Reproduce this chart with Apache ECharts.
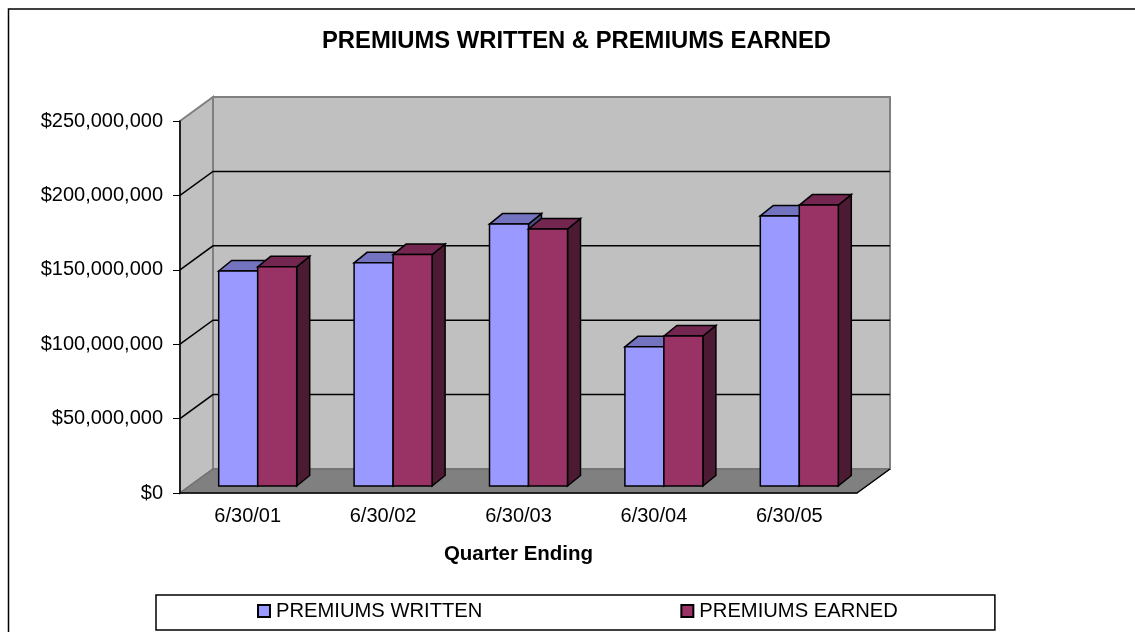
<!DOCTYPE html>
<html>
<head>
<meta charset="utf-8">
<title>Premiums Written & Premiums Earned</title>
<script src="https://cdn.jsdelivr.net/npm/echarts@6/dist/echarts.min.js"></script>
<style>
  html, body { margin: 0; padding: 0; background: #fff; }
  #chart { width: 1135px; height: 632px; }
</style>
</head>
<body>
<div id="chart"></div>
<script>
var quarters = ['6/30/01', '6/30/02', '6/30/03', '6/30/04', '6/30/05'];
var premiumsWritten = [144500000, 150000000, 176000000, 93500000, 181500000];
var premiumsEarned = [147300000, 155500000, 172700000, 100800000, 188800000];
var yTicks = [0, 50000000, 100000000, 150000000, 200000000, 250000000];

var fontName = '"Liberation Sans", Arial, sans-serif';
var wallDepth = [33, -24];   // how far the back wall sits from the axes
var barDepth = [13, -10.5];  // depth of a column
var barShift = [10, -7];     // columns stand in the middle of the floor
var barWidth = 39;

var chart = echarts.init(document.getElementById('chart'));

function poly(points, fill, stroke, width) {
    return {
        type: 'polygon',
        shape: { points: points },
        style: { fill: fill, stroke: stroke, lineWidth: width }
    };
}

// back wall, side wall and floor
function renderWalls(params, api) {
    var g = params.coordSys;
    var dx = wallDepth[0], dy = wallDepth[1];
    var left = g.x, right = g.x + g.width, top = g.y, bottom = g.y + g.height;
    return {
        type: 'group',
        children: [
            poly([[left + dx, top + dy], [right + dx, top + dy], [right + dx, bottom + dy], [left + dx, bottom + dy]], '#c0c0c0', '#808080', 2),
            poly([[left, top], [left + dx, top + dy], [left + dx, bottom + dy], [left, bottom]], '#c0c0c0', '#808080', 2),
            poly([[left, bottom], [left + dx, bottom + dy], [right + dx, bottom + dy], [right, bottom]], '#808080', '#6a6a6a', 1),
            {
                type: 'line',
                shape: { x1: right, y1: bottom, x2: right + dx, y2: bottom + dy },
                style: { stroke: '#000', lineWidth: 1.5 }
            }
        ]
    };
}

// one grid line, running over side wall and back wall
function renderGridLine(params, api) {
    var g = params.coordSys;
    var p = api.coord([0, api.value(1)]);
    var dx = wallDepth[0], dy = wallDepth[1];
    return {
        type: 'polyline',
        shape: { points: [[g.x, p[1]], [g.x + dx, p[1] + dy], [g.x + g.width + dx, p[1] + dy]] },
        style: { fill: null, stroke: '#000', lineWidth: 1.5 }
    };
}

function makeBarRenderer(side, front, topColor, sideColor) {
    return function (params, api) {
        var p = api.coord([api.value(0), api.value(1)]);
        var base = api.coord([api.value(0), 0]);
        var x0 = p[0] + barShift[0] + (side === 0 ? -barWidth : 0);
        var x1 = x0 + barWidth;
        var y0 = p[1] + barShift[1];
        var y1 = base[1] + barShift[1];
        var dx = barDepth[0], dy = barDepth[1];
        return {
            type: 'group',
            children: [
                poly([[x1, y0], [x1 + dx, y0 + dy], [x1 + dx, y1 + dy], [x1, y1]], sideColor, '#000', 1.5),
                poly([[x0, y0], [x0 + dx, y0 + dy], [x1 + dx, y0 + dy], [x1, y0]], topColor, '#000', 1.5),
                poly([[x0, y0], [x1, y0], [x1, y1], [x0, y1]], front, '#000', 1.5)
            ]
        };
    };
}

function rows(values) {
    return values.map(function (v, i) { return [i, v]; });
}

var option = {
    backgroundColor: '#fff',
    animation: false,
    textStyle: { fontFamily: fontName, color: '#000' },
    title: {
        text: 'PREMIUMS WRITTEN & PREMIUMS EARNED',
        left: 322,
        top: 29,
        textStyle: { fontFamily: fontName, fontSize: 23.8, fontWeight: 'bold', color: '#000' },
        padding: 0
    },
    legend: {
        data: ['PREMIUMS WRITTEN', 'PREMIUMS EARNED'],
        left: 156,
        top: 595,
        icon: 'rect',
        itemWidth: 12,
        itemHeight: 12,
        itemGap: 198,
        padding: [6, 97, 9, 101],
        borderColor: '#000',
        borderWidth: 1.5,
        textStyle: { fontFamily: fontName, fontSize: 20.2, color: '#000', padding: [0, 0, 0, 1] }
    },
    grid: { left: 180, top: 121, width: 677, height: 372 },
    xAxis: {
        type: 'category',
        data: quarters,
        name: 'Quarter Ending',
        nameLocation: 'middle',
        nameGap: 51,
        nameTextStyle: { fontFamily: fontName, fontSize: 20.5, fontWeight: 'bold', color: '#000' },
        axisLine: { lineStyle: { color: '#000', width: 1.5 } },
        axisTick: { length: 7, lineStyle: { color: '#000', width: 1 } },
        axisLabel: { fontFamily: fontName, fontSize: 20, color: '#000', margin: 13 },
        z: 5
    },
    yAxis: {
        type: 'value',
        min: 0,
        max: 250000000,
        interval: 50000000,
        splitLine: { show: false },
        axisLine: { show: true, lineStyle: { color: '#000', width: 1.5 } },
        axisTick: { show: true, length: 7, lineStyle: { color: '#000', width: 1 } },
        axisLabel: {
            fontFamily: fontName,
            fontSize: 20,
            color: '#000',
            margin: 17,
            padding: [4, 0, 0, 0],
            formatter: function (v) { return '$' + v.toLocaleString('en-US'); }
        },
        z: 5
    },
    series: [
        { type: 'custom', silent: true, renderItem: renderWalls, data: [[0, 0]], z: 1 },
        { type: 'custom', silent: true, renderItem: renderGridLine, data: rows(yTicks.slice(1, 5)), encode: { x: 0, y: 1 }, z: 1 },
        {
            name: 'PREMIUMS WRITTEN',
            type: 'custom',
            itemStyle: { color: '#9999ff', borderColor: '#000', borderWidth: 1.5 },
            renderItem: makeBarRenderer(0, '#9999ff', '#7373bf', '#4d4d80'),
            data: rows(premiumsWritten),
            encode: { x: 0, y: 1 },
            z: 2
        },
        {
            name: 'PREMIUMS EARNED',
            type: 'custom',
            itemStyle: { color: '#993366', borderColor: '#000', borderWidth: 1.5 },
            renderItem: makeBarRenderer(1, '#993366', '#732650', '#4d1a33'),
            data: rows(premiumsEarned),
            encode: { x: 0, y: 1 },
            z: 3
        }
    ],
    graphic: [{
        type: 'polyline',
        silent: true,
        shape: { points: [[8.5, 632], [8.5, 9], [1135, 9]] },
        style: { fill: null, stroke: '#000', lineWidth: 1.5 }
    }]
};

chart.setOption(option);
</script>
</body>
</html>
